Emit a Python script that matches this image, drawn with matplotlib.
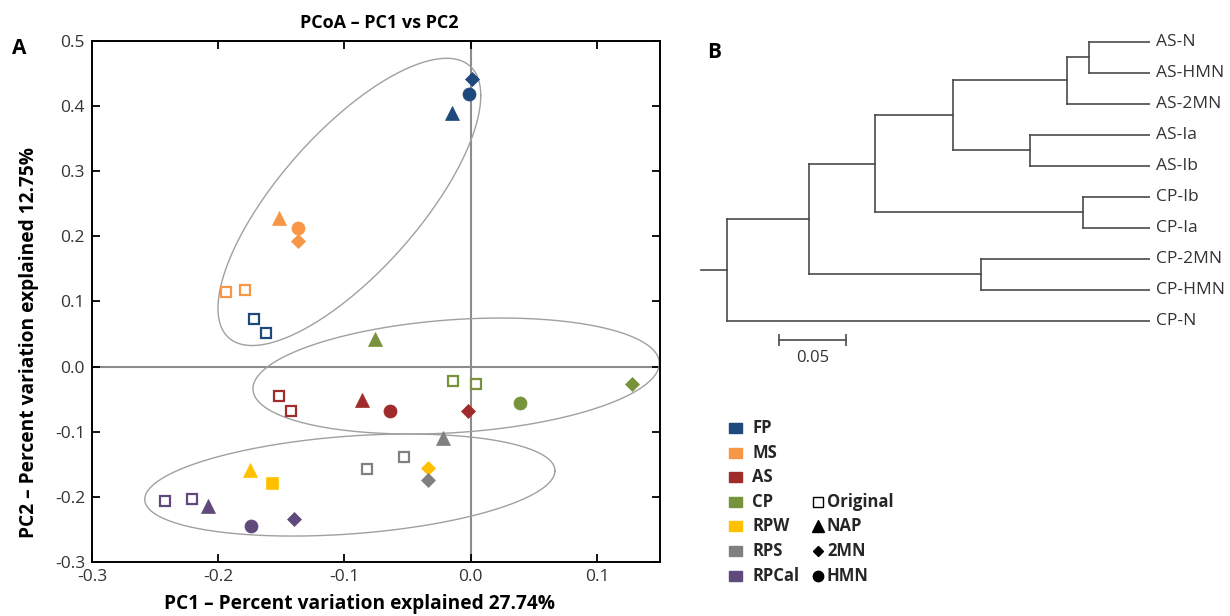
import numpy as np
import matplotlib
matplotlib.use("Agg")
import matplotlib.pyplot as plt
from matplotlib.patches import Rectangle
from matplotlib.ticker import FuncFormatter

plt.rcParams["font.family"] = ["Open Sans", "DejaVu Sans"]

# ---- panel A data (PCoA scores) ----
groups = ["FP", "MS", "AS", "CP", "RPW", "RPS", "RPCal"]
group_colors = ["#1F497D", "#F79646", "#A02B2B", "#77933C", "#FFC000", "#808080", "#604A7B"]
shapes = ["Original", "NAP", "2MN", "HMN"]

pt_group = (["FP"] * 5 + ["MS"] * 5 + ["AS"] * 5 + ["CP"] * 5
            + ["RPW"] * 3 + ["RPS"] * 4 + ["RPCal"] * 5)
pt_shape = ["2MN", "HMN", "NAP", "Original", "Original",
            "NAP", "HMN", "2MN", "Original", "Original",
            "Original", "Original", "NAP", "HMN", "2MN",
            "NAP", "Original", "Original", "HMN", "2MN",
            "NAP", "Square", "2MN",
            "NAP", "Original", "Original", "2MN",
            "Original", "Original", "NAP", "HMN", "2MN"]
pc1 = [0.001, -0.001, -0.015, -0.172, -0.162,
       -0.152, -0.137, -0.137, -0.194, -0.179,
       -0.152, -0.142, -0.086, -0.064, -0.002,
       -0.076, -0.014, 0.004, 0.039, 0.128,
       -0.175, -0.157, -0.034,
       -0.022, -0.082, -0.053, -0.034,
       -0.242, -0.221, -0.208, -0.174, -0.140]
pc2 = [0.441, 0.418, 0.389, 0.073, 0.052,
       0.228, 0.213, 0.193, 0.115, 0.118,
       -0.046, -0.068, -0.051, -0.069, -0.069,
       0.042, -0.023, -0.027, -0.056, -0.027,
       -0.159, -0.179, -0.156,
       -0.110, -0.157, -0.139, -0.174,
       -0.206, -0.203, -0.214, -0.245, -0.234]

# grouping ellipses: centre, half extents, and cos of phase shift (tilt)
ell_cx = [-0.0961, -0.0115, -0.0957]
ell_cy = [0.2526, -0.0146, -0.1819]
ell_hx = [0.1041, 0.161, 0.1625]
ell_hy = [0.2204, 0.089, 0.0783]
ell_cos = [0.74, 0.22, 0.28]

# ---- panel B data (dendrogram) ----
leaves = ["AS-N", "AS-HMN", "AS-2MN", "AS-Ia", "AS-Ib",
          "CP-Ib", "CP-Ia", "CP-2MN", "CP-HMN", "CP-N"]
# linkage style: (child a, child b, height) -> new node id 10, 11, ...
merges = [(0, 1, 0.0457), (10, 2, 0.0621), (3, 4, 0.0890), (11, 12, 0.1467),
          (5, 6, 0.0500), (13, 14, 0.2046), (7, 8, 0.1262), (15, 16, 0.2539),
          (17, 9, 0.3154)]
root_stem = 0.019
scale_len = 0.05

W, H = 1230, 616
fig = plt.figure(figsize=(W / 100, H / 100), dpi=100)

# ================= panel A =================
ax = fig.add_axes([92 / W, 1 - 562 / H, (660 - 92) / W, (562 - 40.7) / H])
ax.set_xlim(-0.3, 0.15)
ax.set_ylim(-0.3, 0.5)
ax.axhline(0, color="#8c8c8c", lw=1.5, zorder=1)
ax.axvline(0, color="#8c8c8c", lw=1.5, zorder=1)

t = np.linspace(0, 2 * np.pi, 400)
for cx, cy, hx, hy, c in zip(ell_cx, ell_cy, ell_hx, ell_hy, ell_cos):
    phi = np.arccos(c)
    ax.plot(cx + hx * np.cos(t), cy + hy * np.cos(t - phi), color="#a0a0a0", lw=1.0, zorder=2)

mk = {"Original": ("s", 7.8, 1.6), "NAP": ("^", 9.5, 0.5), "2MN": ("D", 7.3, 0.5),
      "HMN": ("o", 9.4, 0.5), "Square": ("s", 9.0, 0.5)}
for g, s, x, y in zip(pt_group, pt_shape, pc1, pc2):
    col = group_colors[groups.index(g)]
    m, ms, mew = mk[s]
    face = "white" if s == "Original" else col
    ax.plot(x, y, m, ms=ms, mfc=face, mec=col, mew=mew, zorder=3)

ax.set_xticks([-0.3, -0.2, -0.1, 0.0, 0.1])
ax.set_yticks(np.arange(-0.3, 0.51, 0.1))
fmt = FuncFormatter(lambda v, p: f"{v:.1f}".replace("-0.0", "0.0"))
ax.xaxis.set_major_formatter(fmt)
ax.yaxis.set_major_formatter(fmt)
ax.tick_params(direction="in", length=6, width=1.3, top=True, right=True,
               labelsize=12.5, labelcolor="#333333", pad=5)
for sp in ax.spines.values():
    sp.set_linewidth(1.4)

ax.set_xlabel("PC1 \u2013 Percent variation explained 27.74%", fontsize=13.8, fontweight="bold")
ax.set_ylabel("PC2 \u2013 Percent variation explained 12.75%", fontsize=13.8, fontweight="bold")
ax.xaxis.label.set_va("center")
ax.yaxis.label.set_va("center")
ax.xaxis.set_label_coords((360 - 92) / 568, (562 - 604) / 521.3)
ax.yaxis.set_label_coords((29 - 92) / 568, (562 - 342) / 521.3)
fig.text(379 / W, 1 - 23 / H, "PCoA \u2013 PC1 vs PC2", ha="center", va="center",
         fontsize=13, fontweight="bold")
fig.text(19 / W, 1 - 49 / H, "A", ha="center", va="center", fontsize=15, fontweight="bold")

# ================= panel B =================
axb = fig.add_axes([690 / W, 1 - 380 / H, (1150 - 690) / W, (380 - 20) / H])
px_per_unit = 1342.7
axb.set_xlim((1150 - 690) / px_per_unit, 0)
axb.set_ylim((380 - 41.7) / 31.03, (20 - 41.7) / 31.03)
axb.axis("off")

ypos = {i: float(i) for i in range(len(leaves))}
hgt = {i: 0.0 for i in range(len(leaves))}
lc = "#4a4a4a"
for k, (a, b, h) in enumerate(merges):
    nid = len(leaves) + k
    axb.plot([h, h], [ypos[a], ypos[b]], color=lc, lw=1.2)
    for c in (a, b):
        axb.plot([hgt[c], h], [ypos[c], ypos[c]], color=lc, lw=1.2)
    ypos[nid] = (ypos[a] + ypos[b]) / 2
    hgt[nid] = h
root = len(leaves) + len(merges) - 1
axb.plot([hgt[root], hgt[root] + root_stem], [ypos[root], ypos[root]], color=lc, lw=1.2)

for i, name in enumerate(leaves):
    axb.annotate(name, (0, i), xytext=(4, 0), textcoords="offset points",
                 ha="left", va="center", fontsize=12.5, color="#333333", annotation_clip=False)

bar_x0 = (1150 - 779.3) / px_per_unit
bar_y = (340 - 41.7) / 31.03
axb.plot([bar_x0, bar_x0 - scale_len], [bar_y, bar_y], color=lc, lw=1.2)
axb.plot([bar_x0, bar_x0 - scale_len], [bar_y, bar_y], "|", color=lc, ms=8, mew=1.2)
axb.text(bar_x0 - scale_len / 2, bar_y + 0.58, f"{scale_len:.2f}", ha="center", va="center",
         fontsize=12, color="#333333")
fig.text(714 / W, 1 - 52 / H, "B", ha="center", va="center", fontsize=15, fontweight="bold")

# ================= legend =================
axl = fig.add_axes([700 / W, 1 - 600 / H, 300 / W, 200 / H])
axl.set_xlim(700, 1000)
axl.set_ylim(600, 400)
axl.axis("off")
row0, dy = 428, 24.6
for i, (g, c) in enumerate(zip(groups, group_colors)):
    y = row0 + i * dy
    axl.add_patch(Rectangle((728.5, y - 5), 13, 10, color=c))
    axl.text(752, y, g, ha="left", va="center", fontsize=12, fontweight="bold", color="#262626")
shape_mk = {"Original": ("s", 7, "white"), "NAP": ("^", 8, "black"),
            "2MN": ("D", 5, "black"), "HMN": ("o", 7.5, "black")}
for j, s in enumerate(shapes):
    y = row0 + (3 + j) * dy
    m, ms, fc = shape_mk[s]
    axl.plot(818, y, m, ms=ms, mfc=fc, mec="black", mew=1.0)
    axl.text(827, y, s, ha="left", va="center", fontsize=12, fontweight="bold", color="#262626")

fig.savefig("out.png", dpi=100)
